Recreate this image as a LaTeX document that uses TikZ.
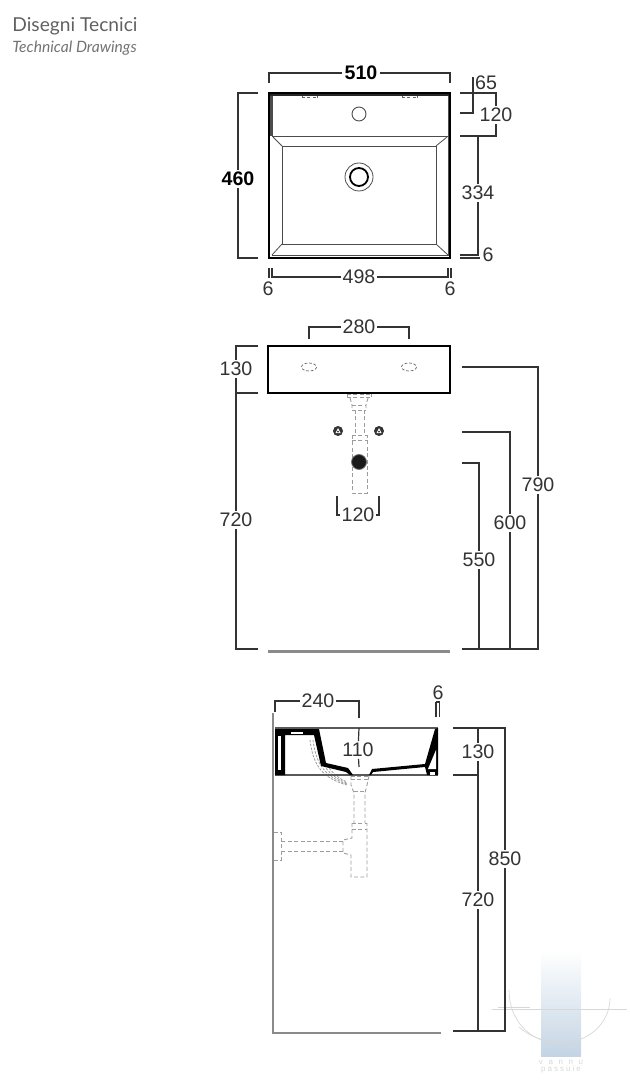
\documentclass[tikz,border=0pt]{standalone}
\usepackage{fontspec}
\setmainfont{Liberation Sans}
\newfontfamily\titlefont{Lato}
\definecolor{dimgray}{HTML}{333333}
\definecolor{wallgray}{HTML}{8A8A8A}
\definecolor{pipegray}{HTML}{9C9C9C}
\definecolor{logoblue}{HTML}{C4D4E4}
\definecolor{logogray}{HTML}{D8D8D8}
\tikzstyle{dimline}=[draw=dimgray,line width=0.6pt]
\tikzstyle{dimlabel}=[fill=white,inner sep=0.8pt,text=dimgray,font=\fontsize{9.8}{10}\selectfont]
\tikzstyle{boldlabel}=[fill=white,inner sep=1pt,text=black,font=\fontsize{9.8}{10}\selectfont\bfseries]
\tikzstyle{outline}=[draw=black,line width=0.8pt]
\tikzstyle{thinline}=[draw=black!70,line width=0.4pt]
\tikzstyle{pipe}=[draw=pipegray,line width=0.45pt,dash pattern=on 2pt off 1.2pt]
\begin{document}
\begin{tikzpicture}[x=0.5pt,y=-0.5pt]
\useasboundingbox (0,0) rectangle (629,1080);
\node[anchor=west,inner sep=0pt,text=black!62,font=\titlefont\fontsize{9.6}{10}\selectfont] at (12,26.5) (title) {Disegni Tecnici};
\node[anchor=west,inner sep=0pt,text=black!55,font=\titlefont\itshape\fontsize{7.8}{10}\selectfont] at (12,48) (subtitle) {Technical Drawings};

% logo
\shade[top color=white,bottom color=logoblue] (541,950) rectangle (581,1056);
\draw[logogray,line width=0.35pt] (492,1009) -- (627,1009);
\draw[logogray,line width=0.35pt] (498,1007) -- (530,1007);
\draw[logogray,line width=0.35pt] (509,990) .. controls (509,1020) and (530,1043) .. (559,1043) .. controls (590,1043) and (610,1022) .. (610,998);
\draw[logogray,line width=0.35pt] (519,1027) .. controls (530,1037) and (545,1042) .. (560,1042);
\node[inner sep=0pt,text=logogray,font=\fontsize{4}{4}\selectfont\addfontfeature{LetterSpace=70}] at (561,1062) (logoa) {vannu};
\node[inner sep=0pt,text=logogray,font=\fontsize{4}{4}\selectfont\addfontfeature{LetterSpace=25}] at (561,1069.5) (logob) {passuie};

% plan view
\fill[black!70] (269,93) rectangle (272.5,136);
\fill[black!85] (269,93) rectangle (450,96.5);
\draw[thinline] (272,255.5) -- (448,255.5) -- (448,96);
\draw[thinline] (272,136) -- (448,136);
\draw[thinline] (282,146) rectangle (436,244);
\draw[thinline] (273,137) -- (282,146);
\draw[thinline] (447,137) -- (436,146);
\draw[thinline] (272,255) -- (282,244);
\draw[thinline] (448,255) -- (436,244);
\draw[outline] (269,93) rectangle (450,258);
\foreach \px in {302,402}{
  \draw[black!60,line width=0.45pt,dash pattern=on 1.5pt off 1.2pt] (\px,97.5) -- (\px+15,97.5);
  \draw[black!60,line width=0.45pt] (\px,96) -- (\px,98) (\px+15,96) -- (\px+15,98);
}
\node[circle,draw=black!70,line width=0.45pt,minimum size=7pt,inner sep=0pt] at (359,114) (tap) {};
\node[circle,draw=black!70,line width=0.4pt,minimum size=14pt,inner sep=0pt] at (359,177) (drain) {};
\node[circle,draw=black,line width=0.9pt,minimum size=9pt,inner sep=0pt] at (359,177) (drainin) {};

\node[boldlabel] at (361,73) (wa) {510};
\coordinate (wal) at (269,83);
\coordinate (war) at (450,83);
\draw[dimline] (wal) |- (wa);
\draw[dimline] (war) |- (wa);
\node[boldlabel] at (238,179) (da) {460};
\coordinate (dat) at (258,93);
\coordinate (dab) at (258,258);
\draw[dimline] (dat) -| (da);
\draw[dimline] (dab) -| (da);
\node[dimlabel] at (359,277) (wb) {498};
\coordinate (wbl) at (272,268);
\coordinate (wbr) at (448,268);
\draw[dimline] (wbl) |- (wb);
\draw[dimline] (wbr) |- (wb);
\draw[dimline] (269,268) -- (269,278);
\draw[dimline] (451,268) -- (451,278);
\node[dimlabel] at (268,289) (wcl) {6};
\node[dimlabel] at (450,289) (wcr) {6};
\node[dimlabel] at (486,83) (ha) {65};
\draw[dimline] (473,77) -- (473,113) -- (460,113);
\node[dimlabel] at (496,115) (hb) {120};
\coordinate (hbt) at (460,93);
\coordinate (hbb) at (460,136);
\draw[dimline] (hbt) -| (hb);
\draw[dimline] (hbb) -| (hb);
\node[dimlabel] at (478,193) (hc) {334};
\coordinate (hct) at (460,136);
\coordinate (hcb) at (480,255);
\draw[dimline] (hct) -| (hc);
\draw[dimline] (hc) |- (460,255);
\draw[dimline] (460,258) -- (480,258);
\node[dimlabel] at (488,255) (hd) {6};

% front view
\draw[black,line width=1pt] (268,346) rectangle (450,393);
\foreach \px in {309,409}{
  \draw[black!60,line width=0.35pt,dash pattern=on 1.4pt off 0.9pt] (\px,367) ellipse (7.5 and 4);
}
\draw[pipe] (347,394) -- (371,394) (347,397) -- (371,397) (347,394) -- (347,397) (371,394) -- (371,397);
\draw[pipe] (350,398) -- (352,405) -- (352,410) (368,398) -- (366,405) -- (366,410);
\draw[pipe] (352,405) -- (366,405) (352,410) -- (366,410);
\draw[pipe] (355,410) -- (355,435) (364,410) -- (364,435);
\draw[pipe] (352,435) -- (367,435) (352,440) -- (367,440);
\draw[pipe] (352,435) -- (352,493) -- (367,493) -- (367,435);
\foreach \px in {338,379}{
  \fill[black!80] (\px,431) circle (5);
  \fill[white] (\px-2.6,433.2) -- (\px+2.6,433.2) -- (\px,428) -- cycle;
  \fill[black!80] (\px,431.6) circle (1);
}
\node[circle,fill=black!90,draw=black!55,line width=0.4pt,minimum size=7.5pt,inner sep=0pt] at (359,462) (waste) {};
\draw[wallgray,line width=1.5pt] (268,651) -- (450,651);

\node[dimlabel] at (359,327) (fa) {280};
\coordinate (fal) at (309,339);
\coordinate (far) at (409,339);
\draw[dimline] (fal) |- (fa);
\draw[dimline] (far) |- (fa);
\node[dimlabel] at (236,369) (fb) {130};
\coordinate (fbt) at (258,346);
\coordinate (fbb) at (258,393);
\draw[dimline] (fbt) -| (fb);
\draw[dimline] (fbb) -| (fb);
\node[dimlabel] at (236,520) (fc) {720};
\coordinate (fcb) at (258,649);
\draw[dimline] (fbb) -| (fc);
\draw[dimline] (fcb) -| (fc);
\node[dimlabel] at (358,515) (fd) {120};
\coordinate (fdl) at (337,496);
\coordinate (fdr) at (379,496);
\draw[dimline] (fdl) |- (fd);
\draw[dimline] (fdr) |- (fd);
\node[dimlabel] at (538,485) (fe) {790};
\node[dimlabel] at (510,523) (ff) {600};
\node[dimlabel] at (479,560) (fg) {550};
\coordinate (fet) at (462,367);
\coordinate (fft) at (462,432);
\coordinate (fgt) at (462,463);
\coordinate (feb) at (462,649);
\draw[dimline] (fet) -| (fe);
\draw[dimline] (fft) -| (ff);
\draw[dimline] (fgt) -| (fg);
\draw[dimline] (feb) -| (fe);
\draw[dimline] (feb) -| (ff);
\draw[dimline] (feb) -| (fg);

% section view
\draw[wallgray,line width=1.4pt] (273,713) -- (273,1033) -- (441,1033);
\foreach \hx/\ha in {0/0,3/-1,6/-2,9/-3}{
  \draw[pipegray,line width=0.4pt,dash pattern=on 1.2pt off 0.7pt] (310+\hx,740) .. controls (313+\hx,765+\ha) and (322+\hx,778+\ha) .. (347,785+\ha);
}
\draw[pipe] (351,776) -- (369,776) (351,779) -- (369,779);
\draw[pipe] (351,776) -- (351,785) -- (354,793) -- (354,823) (369,776) -- (367,785) -- (365,793) -- (365,823);
\draw[pipe] (354,791) -- (365,791);
\draw[pipe] (352,823) -- (367,823) (352,829) -- (367,829);
\draw[pipe] (352,823) -- (352,838) -- (343,840) -- (343,853) -- (351,855) -- (351,877) -- (367,877) -- (367,823);
\draw[pipe] (343,841) -- (280,841) (343,851) -- (280,851);
\draw[pipe] (274,832) -- (281,832) -- (281,860) -- (274,860);

\draw[black!65,line width=0.55pt] (275,728) -- (438,728);
\draw[black!65,line width=0.55pt] (275,775) -- (438,775);
% basin walls
\fill[black] (275,729) -- (319,729) -- (326,763) -- (348,768) -- (353,775) -- (350,775) -- (346,772) -- (321,766) -- (314,735) -- (285,735) -- (285,775) -- (275,775) -- cycle;
\fill[white] (278,736) rectangle (281,770);
\fill[white] (291,731.5) rectangle (303,734);
\fill[black] (369,775) -- (372,769) -- (425,764) -- (435,729) -- (438,728) -- (438,775) -- (427,775) -- (425,767) -- (373,772) -- (371,775) -- cycle;
\fill[white] (436,750) -- (436,769) -- (428,769) -- cycle;
\fill[white] (430,772) rectangle (435,774.5);

\node[dimlabel] at (318,701) (sa) {240};
\coordinate (sal) at (275,712);
\coordinate (sar) at (359,718);
\draw[dimline] (sal) |- (sa);
\draw[dimline] (sar) |- (sa);
\node[dimlabel] at (358,750) (sb) {110};
\coordinate (sbt) at (359,728);
\coordinate (sbb) at (359,767);
\draw[dimline] (sbt) -- (sb);
\draw[dimline] (sb) -- (sbb);
\node[dimlabel] at (438,693) (sc) {6};
\draw[dimline] (436,702) -- (436,717);
\draw[dimline] (439.5,702) -- (439.5,717);
\draw[dimline] (436,702) -- (439.5,702);
\node[dimlabel] at (478,752) (sd) {130};
\node[dimlabel] at (478,900) (se) {720};
\node[dimlabel] at (505,859) (sf) {850};
\coordinate (st) at (453,728);
\coordinate (sm) at (453,775);
\coordinate (sl) at (453,1031);
\draw[dimline] (st) -| (sd);
\draw[dimline] (sm) -| (sd);
\draw[dimline] (sm) -| (se);
\draw[dimline] (sl) -| (se);
\draw[dimline] (st) -| (sf);
\draw[dimline] (sl) -| (sf);
\end{tikzpicture}
\end{document}
